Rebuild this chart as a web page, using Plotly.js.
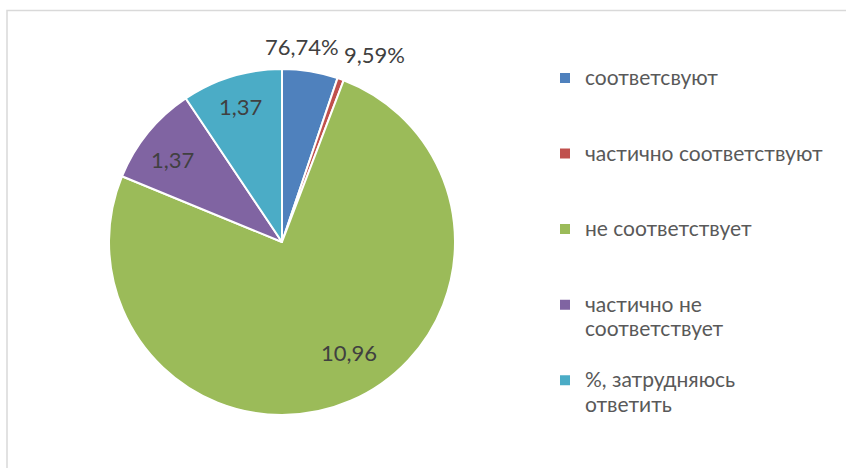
<!DOCTYPE html>
<html>
<head>
<meta charset="utf-8">
<script src="https://cdn.plot.ly/plotly-3.0.1.min.js"></script>
<style>html,body{margin:0;padding:0;background:#fff;}#chart{width:846px;height:468px;}</style>
</head>
<body>
<div id="chart"></div>
<script>
// Categories (legend text as shown)
const categories = [
  'соответсвуют',
  'частично соответствуют',
  'не соответствует',
  'частично не<br>соответствует',
  '%, затрудняюсь<br>ответить'
];
// Slice sizes (percent)
const values = [5.2, 0.6, 75.4, 9.4, 9.4];
// Data labels as printed on the chart
const dataLabels = ['76,74%', '9,59%', '10,96', '1,37', '1,37'];
const colors = ['#4F81BD', '#C0504D', '#9BBB59', '#8064A2', '#4BACC6'];

// where each printed data label sits (pixel centres in the 846x468 figure)
const labelPos = [[301.5, 46.5], [374.5, 54.5], [349, 352.5], [172.5, 159.5], [240.5, 106.5]];

const FONT = 'Lato, "Open Sans", sans-serif';

// legend entries padded to a uniform three-line height
const legendLabels = categories.map(c => {
  const parts = c.split('<br>');
  let s = parts.map(p => '<span style="font-size:21px">' + p + '</span>').join('<br>');
  for (let i = parts.length; i < 3; i++) s += '<br>&nbsp;';
  return s;
});

const trace = {
  type: 'pie',
  labels: legendLabels,
  values: values,
  textinfo: 'none',
  sort: false,
  direction: 'clockwise',
  rotation: 0,
  marker: {colors: colors, line: {color: '#ffffff', width: 2}},
  domain: {x: [109/846, 455/846], y: [53/468, 399/468]},
  hoverinfo: 'none'
};

const annotations = dataLabels.map((t, i) => ({
  text: t,
  xref: 'paper', yref: 'paper',
  x: labelPos[i][0] / 846, y: 1 - labelPos[i][1] / 468,
  xanchor: 'center', yanchor: 'middle',
  showarrow: false,
  font: {family: FONT, size: 22, color: '#404040'}
}));

const layout = {
  width: 846,
  height: 468,
  margin: {l: 0, r: 0, t: 0, b: 0},
  paper_bgcolor: '#ffffff',
  plot_bgcolor: '#ffffff',
  showlegend: true,
  legend: {
    x: 0.6442, xanchor: 'left',
    y: 0.873, yanchor: 'top',
    valign: 'top',
    font: {family: FONT, size: 18.6, color: '#595959'},
    bgcolor: 'rgba(0,0,0,0)'
  },
  annotations: annotations,
  shapes: [{
    type: 'rect', xref: 'paper', yref: 'paper',
    x0: 7/846, x1: 1.2, y0: -0.2, y1: (468 - 10.5)/468,
    line: {color: '#d9d9d9', width: 1.5}
  }]
};

Plotly.newPlot('chart', [trace], layout, {displayModeBar: false, staticPlot: true});
</script>
</body>
</html>
